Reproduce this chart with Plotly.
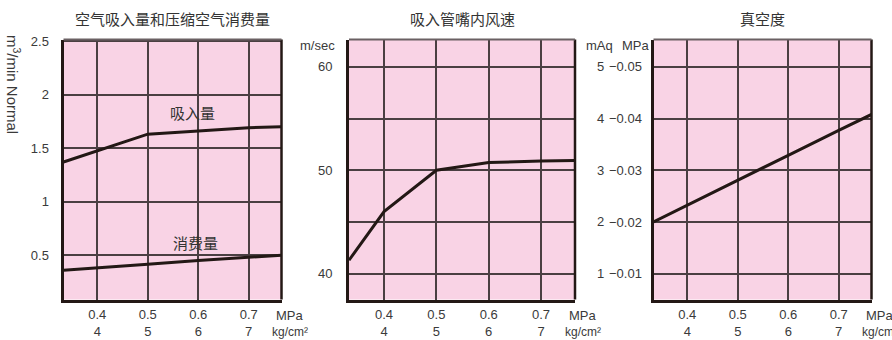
import plotly.graph_objects as go

# Données
pressure_mpa = [0.333, 0.4, 0.5, 0.6, 0.7, 0.765]
x_ticks = [0.4, 0.5, 0.6, 0.7]
x_ticktext = ['0.4<br>4', '0.5<br>5', '0.6<br>6', '0.7<br>7']

intake = [1.37, 1.475, 1.63, 1.66, 1.69, 1.70]          # m3/min Normal
consumption = [0.36, 0.38, 0.415, 0.45, 0.48, 0.50]     # m3/min Normal
velocity = [41.3, 46.0, 50.0, 50.75, 50.9, 50.95]       # m/sec
vacuum_maq = [2.0, 2.32, 2.81, 3.29, 3.77, 4.08]        # mAq

flow_ticks = [0.5, 1, 1.5, 2, 2.5]
flow_ticktext = ['0.5', '1', '1.5', '2', '2.5']
vel_ticks = [40, 50, 60]
vel_minor = [45, 55]
vac_ticks = [1, 2, 3, 4, 5]
vac_mpa_text = ['−0.01', '−0.02', '−0.03', '−0.04', '−0.05']
vac_maq_text = ['1', '2', '3', '4', '5']

titles = ['空气吸入量和压缩空气消费量', '吸入管嘴内风速', '真空度']

W, H = 892, 340
PINK = '#F9D3E5'
DARK = '#231815'
GRID = '#4a3f42'
TXT = '#3a3a3a'
NUM_FONT = 'Liberation Sans Narrow, Liberation Sans, Roboto, sans-serif'
CJK_FONT = 'Noto Sans CJK SC, sans-serif'

# position des panneaux en pixels (gauche, droite)
panels_px = [(63.5, 281.5), (349, 575), (653.5, 871.5)]
top_px, bottom_px = 39.5, 299.5
ydom = [(H - bottom_px) / H, (H - top_px) / H]


def py(px):
    # pixel vertical -> coordonnée papier
    return (H - px) / H


fig = go.Figure()
line = dict(color=DARK, width=3)
fig.add_trace(go.Scatter(x=pressure_mpa, y=intake, mode='lines', line=line, xaxis='x', yaxis='y'))
fig.add_trace(go.Scatter(x=pressure_mpa, y=consumption, mode='lines', line=line, xaxis='x', yaxis='y'))
fig.add_trace(go.Scatter(x=pressure_mpa, y=velocity, mode='lines', line=line, xaxis='x2', yaxis='y2'))
fig.add_trace(go.Scatter(x=pressure_mpa, y=vacuum_maq, mode='lines', line=line, xaxis='x3', yaxis='y3'))

y_ranges = [[0.086, 2.514], [37.5, 62.65], [0.5, 5.53]]
y_tv = [flow_ticks, vel_ticks, vac_ticks]
y_tt = [flow_ticktext, [str(v) for v in vel_ticks], vac_mpa_text]
standoffs = [9, 11, 6]

layout = dict(
    width=W, height=H, showlegend=False,
    margin=dict(l=0, r=0, t=0, b=0, autoexpand=False),
    paper_bgcolor='white', plot_bgcolor=PINK,
    font=dict(family=NUM_FONT, size=13, color=TXT),
)
for i, (l, r) in enumerate(panels_px):
    sfx = '' if i == 0 else str(i + 1)
    layout['xaxis' + sfx] = dict(
        domain=[l / W, r / W], range=[0.333, 0.765], anchor='y' + sfx,
        tickvals=x_ticks, ticktext=x_ticktext, showgrid=True, gridcolor=GRID, gridwidth=1.5,
        zeroline=False, showline=True, linecolor=DARK, linewidth=3, ticks='',
        ticklabelstandoff=1, tickfont=dict(size=13, color=TXT), fixedrange=True,
    )
    ya = dict(
        domain=ydom, range=y_ranges[i], anchor='x' + sfx,
        tickvals=y_tv[i], ticktext=y_tt[i], showgrid=True, gridcolor=GRID, gridwidth=1.5,
        zeroline=False, showline=True, linecolor=DARK, linewidth=3, ticks='',
        ticklabelstandoff=standoffs[i], tickfont=dict(size=13, color=TXT), fixedrange=True,
    )
    if i == 1:
        ya['minor'] = dict(tickvals=vel_minor, showgrid=True, gridcolor=GRID, gridwidth=1.5, ticks='')
    layout['yaxis' + sfx] = ya
fig.update_layout(**layout)

shapes = []
annotations = []
for i, (l, r) in enumerate(panels_px):
    sfx = '' if i == 0 else str(i + 1)
    xd, yd = 'x%s domain' % sfx, 'y%s domain' % sfx
    shapes.append(dict(type='line', xref=xd, yref=yd, x0=1, x1=1, y0=0, y1=1,
                       line=dict(color=DARK, width=2.5)))
    shapes.append(dict(type='line', xref=xd, yref=yd, x0=0, x1=1, y0=1, y1=1,
                       line=dict(color='#6a6063', width=1.8)))
    annotations.append(dict(text=titles[i], xref=xd, yref='paper', x=0.5, y=py(18),
                            xanchor='center', yanchor='middle', showarrow=False,
                            font=dict(family=CJK_FONT, size=15, color='#333')))
    annotations.append(dict(text='MPa', xref=xd, yref='paper', x=1, xshift=8, y=py(315),
                            xanchor='center', yanchor='middle', showarrow=False,
                            font=dict(size=13, color=TXT)))
    annotations.append(dict(text='kg/cm²', xref=xd, yref='paper', x=1, xshift=8, y=py(332),
                            xanchor='center', yanchor='middle', showarrow=False,
                            font=dict(size=12, color=TXT)))

# étiquettes des courbes
annotations.append(dict(text='吸入量', xref='x', yref='y', x=0.588, y=1.83, showarrow=False,
                        font=dict(family=CJK_FONT, size=15, color='#333')))
annotations.append(dict(text='消费量', xref='x', yref='y', x=0.595, y=0.62, showarrow=False,
                        font=dict(family=CJK_FONT, size=15, color='#333')))

# titre axe y gauche
annotations.append(dict(text='m<sup>3</sup>/min Normal', xref='paper', yref='paper', x=14 / W, y=py(84),
                        xanchor='center', yanchor='middle', textangle=90, showarrow=False,
                        font=dict(family='Liberation Sans, Arial, sans-serif', size=15, color=TXT)))
# unités au-dessus des axes
annotations.append(dict(text='m/sec', xref='x2 domain', yref='paper', x=0, xshift=-12, xanchor='right',
                        y=py(46), yanchor='middle', showarrow=False, font=dict(size=13, color=TXT)))
annotations.append(dict(text='mAq', xref='x3 domain', yref='paper', x=0, xshift=-54, xanchor='center',
                        y=py(46), yanchor='middle', showarrow=False, font=dict(size=13, color=TXT)))
annotations.append(dict(text='MPa', xref='x3 domain', yref='paper', x=0, xshift=-18, xanchor='center',
                        y=py(46), yanchor='middle', showarrow=False, font=dict(size=13, color=TXT)))
for v, t in zip(vac_ticks, vac_maq_text):
    annotations.append(dict(text=t, xref='x3 domain', yref='y3', x=0, xshift=-53, xanchor='center',
                            y=v, yanchor='middle', showarrow=False, font=dict(size=13, color=TXT)))

fig.update_layout(shapes=shapes, annotations=annotations)
fig.write_html('out.html', config={'displayModeBar': False},
               post_script="document.body.style.margin='0';")
